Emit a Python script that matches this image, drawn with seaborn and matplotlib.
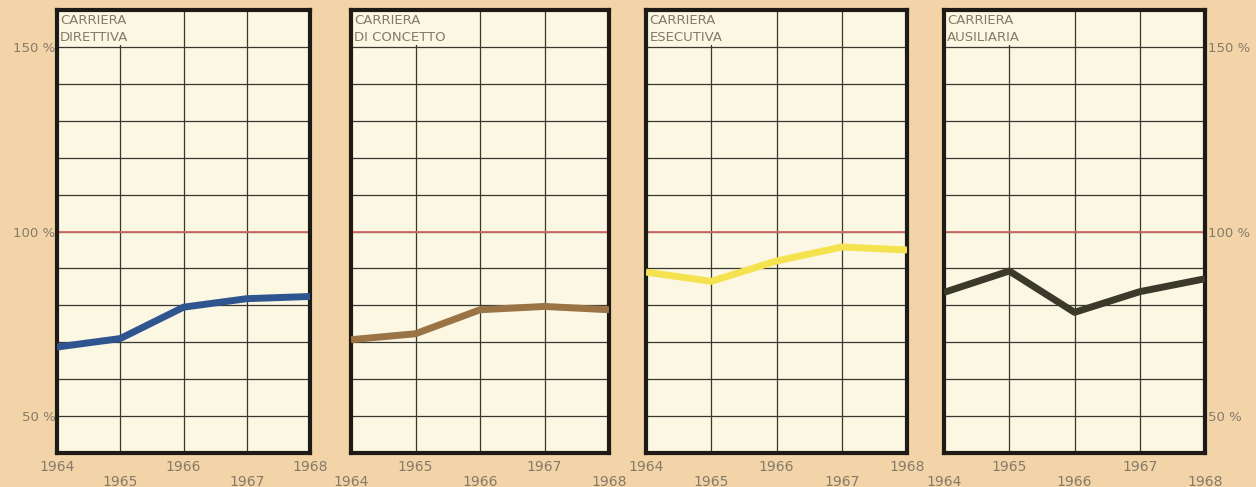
import matplotlib
matplotlib.use("Agg")
import matplotlib.pyplot as plt
import seaborn as sns
import pandas as pd

# data (index, 1964 = 100% reference line)
years = [1964, 1965, 1966, 1967, 1968]
direttiva = [68.7, 71.0, 79.5, 81.8, 82.4]
concetto = [70.7, 72.3, 78.8, 79.7, 78.8]
esecutiva = [89.0, 86.5, 92.0, 95.8, 95.0]
ausiliaria = [83.5, 89.3, 78.1, 83.7, 87.2]

titles = ["CARRIERA\nDIRETTIVA", "CARRIERA\nDI CONCETTO",
          "CARRIERA\nESECUTIVA", "CARRIERA\nAUSILIARIA"]
series = [direttiva, concetto, esecutiva, ausiliaria]
colors = ["#2f5590", "#9a7445", "#f4e34e", "#3b3a2a"]
y_labels = {50: "50 %", 100: "100 %", 150: "150 %"}

bg = "#f3d4a8"
face = "#fbf7e3"
text_col = "#857a68"

sns.set_style("white")
plt.rcParams["font.family"] = ["DejaVu Sans"]

fig = plt.figure(figsize=(12.56, 4.87), dpi=100, facecolor=bg)

# panel positions in pixels (left, right)
W, H = 1256, 487
panel_x = [(57, 310), (351, 609), (646, 907), (944, 1205)]
top_px, bot_px = 10, 453

for i, (title, vals, col) in enumerate(zip(titles, series, colors)):
    x0, x1 = panel_x[i]
    ax = fig.add_axes([x0 / W, (H - bot_px) / H, (x1 - x0) / W, (bot_px - top_px) / H])
    ax.set_facecolor(face)
    ax.set_axisbelow(True)

    df = pd.DataFrame({"year": years, "value": vals})
    sns.lineplot(data=df, x="year", y="value", ax=ax, color=col, lw=5,
                 solid_capstyle="butt", zorder=4)
    ax.axhline(100, color="#d46a68", lw=1.3, zorder=2)

    ax.set_xlim(1964, 1968)
    ax.set_ylim(40, 160)
    ax.set_xticks(years)
    yt = list(range(40, 161, 10))
    ax.set_yticks(yt)
    ax.grid(True, color="#3a372e", lw=0.9)

    # cover grid behind the title block
    ax.axvspan(1964, 1965.3, ymin=(150.5 - 40) / 120, ymax=1, color=face, lw=0, zorder=1)
    ax.text(1964.05, 150.7, title, fontsize=9.5, color=text_col, va="bottom",
            ha="left", linespacing=1.4, zorder=5)

    ax.set_xlabel("")
    ax.set_ylabel("")
    for s in ax.spines.values():
        s.set_visible(True)
        s.set_linewidth(3)
        s.set_color("#1e1a15")

    ax.tick_params(length=0, labelsize=10, labelcolor=text_col)
    ax.set_xticklabels([str(y) for y in years])
    high_first = i in (0, 2)
    for j, tick in enumerate(ax.xaxis.get_major_ticks()):
        high = (j % 2 == 0) == high_first
        tick.set_pad(5 if high else 16)

    if i == 0:
        ax.set_yticklabels([y_labels.get(v, "") for v in yt], fontsize=9.5)
        ax.tick_params(axis="y", pad=1)
    elif i == 3:
        ax.yaxis.tick_right()
        ax.set_yticklabels([y_labels.get(v, "") for v in yt], fontsize=9.5)
        ax.tick_params(axis="y", pad=2, length=0)
    else:
        ax.set_yticklabels([])

fig.savefig("out.png", dpi=100, facecolor=bg)
